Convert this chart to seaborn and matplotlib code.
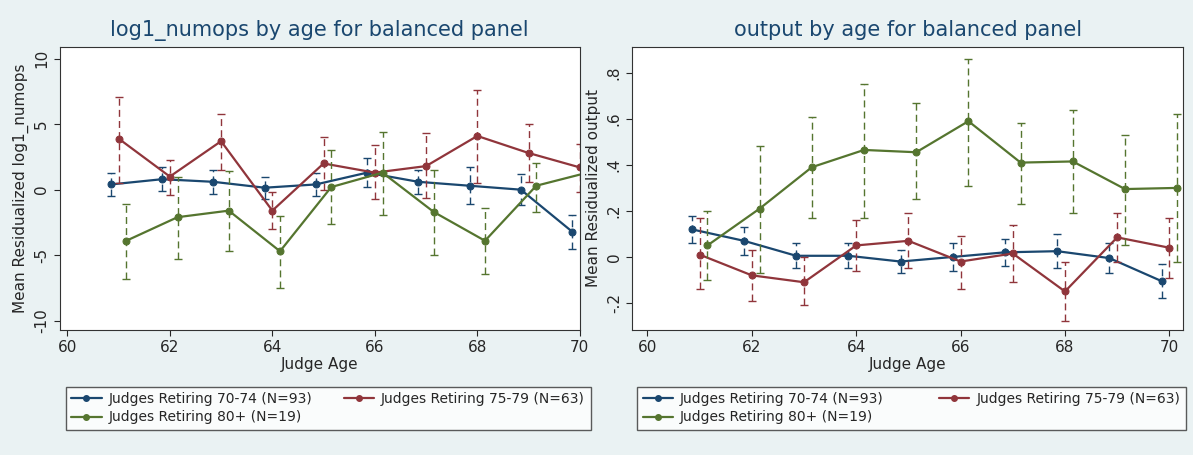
import matplotlib
matplotlib.use("Agg")
import matplotlib.pyplot as plt
import seaborn as sns
import pandas as pd
from matplotlib.lines import Line2D

sns.set_style("white")
plt.rcParams['font.family'] = ['DejaVu Sans']

ages = [61, 62, 63, 64, 65, 66, 67, 68, 69, 70]
labels = ["Judges Retiring 70-74 (N=93)", "Judges Retiring 75-79 (N=63)", "Judges Retiring 80+ (N=19)"]
offsets = [-0.15, 0.0, 0.15]
colors = ["#1a476f", "#90353b", "#55752f"]

# left: log1_numops
l_blue = [0.4, 0.8, 0.6, 0.15, 0.4, 1.3, 0.6, 0.3, 0.0, -3.2]
l_blue_hi = [1.3, 1.7, 1.5, 1.0, 1.3, 2.4, 1.5, 1.7, 1.2, -1.9]
l_blue_lo = [-0.5, -0.1, -0.3, -0.7, -0.5, 0.2, -0.3, -1.1, -1.2, -4.5]
l_red = [3.9, 1.0, 3.7, -1.6, 2.0, 1.3, 1.8, 4.1, 2.8, 1.7]
l_red_hi = [7.1, 2.3, 5.8, -0.2, 4.0, 3.4, 4.3, 7.6, 5.0, 3.5]
l_red_lo = [0.5, -0.4, 1.5, -3.0, 0.0, -0.7, -0.6, 0.5, 0.6, -0.2]
l_green = [-3.9, -2.1, -1.6, -4.7, 0.2, 1.3, -1.7, -3.9, 0.3, 1.3]
l_green_hi = [-1.1, 1.0, 1.4, -2.0, 3.0, 4.4, 1.5, -1.4, 2.0, 3.5]
l_green_lo = [-6.8, -5.3, -4.7, -7.5, -2.6, -1.9, -5.0, -6.4, -1.7, -1.0]

# right: output
r_blue = [0.12, 0.07, 0.005, 0.005, -0.02, 0.0, 0.02, 0.025, -0.005, -0.105]
r_blue_hi = [0.18, 0.13, 0.06, 0.06, 0.03, 0.06, 0.08, 0.10, 0.06, -0.03]
r_blue_lo = [0.06, 0.01, -0.05, -0.05, -0.07, -0.06, -0.04, -0.05, -0.07, -0.18]
r_red = [0.01, -0.08, -0.11, 0.05, 0.07, -0.02, 0.015, -0.15, 0.085, 0.04]
r_red_hi = [0.17, 0.03, 0.0, 0.16, 0.19, 0.09, 0.14, -0.02, 0.19, 0.17]
r_red_lo = [-0.14, -0.19, -0.21, -0.06, -0.05, -0.14, -0.11, -0.28, -0.02, -0.09]
r_green = [0.05, 0.21, 0.39, 0.465, 0.455, 0.59, 0.41, 0.415, 0.295, 0.30]
r_green_hi = [0.20, 0.48, 0.61, 0.75, 0.67, 0.86, 0.58, 0.64, 0.53, 0.62]
r_green_lo = [-0.10, -0.07, 0.17, 0.17, 0.25, 0.31, 0.23, 0.19, 0.05, -0.02]

bg = "#eaf2f3"
fig = plt.figure(figsize=(11.93, 4.55), dpi=100, facecolor=bg)

def panel(ax, series, title, ylabel, xlim, ylim, yticks, yticklabels):
    for (m, hi, lo), lab, off, c in zip(series, labels, offsets, colors):
        x = [a + off for a in ages]
        df = pd.DataFrame({"x": x, "y": m})
        eb = ax.errorbar(x, m, yerr=[[mm - l for mm, l in zip(m, lo)], [h - mm for mm, h in zip(m, hi)]],
                         fmt="none", ecolor=c, elinewidth=1, capsize=3, capthick=1)
        for lc in eb[2]:
            lc.set_linestyle((0, (5, 3)))
        sns.lineplot(data=df, x="x", y="y", ax=ax, color=c, marker="o", markersize=5,
                     markeredgecolor=c, linewidth=1.6, label=lab, legend=False)
    ax.set_xlim(*xlim)
    ax.set_ylim(*ylim)
    ax.set_xticks([60, 62, 64, 66, 68, 70])
    ax.set_yticks(yticks)
    ax.set_yticklabels(yticklabels, rotation=90, va="center")
    ax.set_xlabel("Judge Age", fontsize=11, labelpad=1)
    ax.set_ylabel(ylabel, fontsize=11)
    ax.set_title(title, fontsize=15, color="#1a476f", pad=8)
    ax.tick_params(labelsize=11, length=4, left=True, bottom=True)
    for s in ax.spines.values():
        s.set_color("#333333")
    ax.set_facecolor("white")

ax1 = fig.add_axes([0.050, 0.275, 0.436, 0.622])
panel(ax1, [(l_blue, l_blue_hi, l_blue_lo), (l_red, l_red_hi, l_red_lo), (l_green, l_green_hi, l_green_lo)],
      "log1_numops by age for balanced panel", "Mean Residualized log1_numops",
      (59.85, 69.7), (-10.7, 10.9), [-10, -5, 0, 5, 10], ["-10", "-5", "0", "5", "10"])

ax2 = fig.add_axes([0.530, 0.275, 0.462, 0.622])
panel(ax2, [(r_blue, r_blue_hi, r_blue_lo), (r_red, r_red_hi, r_red_lo), (r_green, r_green_hi, r_green_lo)],
      "output by age for balanced panel", "Mean Residualized output",
      (59.71, 70.27), (-0.317, 0.913), [-0.2, 0, 0.2, 0.4, 0.6, 0.8], ["-.2", "0", ".2", ".4", ".6", ".8"])

handles = [Line2D([0], [0], color=c, marker="o", markersize=4, linewidth=1.6) for c in colors]
order = [0, 2, 1]
h_ord = [handles[i] for i in order]
l_ord = [labels[i] for i in order]
for left, width in [(0.055, 0.44), (0.534, 0.460)]:
    fig.legend(h_ord, l_ord, loc="lower left", bbox_to_anchor=(left, 0.055, width, 0.11),
               mode="expand", ncol=2, fontsize=10, frameon=True, fancybox=False,
               edgecolor="#333333", facecolor="white", borderaxespad=0, handlelength=2.2,
               handletextpad=0.5, columnspacing=0.8, labelspacing=0.3)

fig.savefig("out.png", dpi=100, facecolor=bg)
